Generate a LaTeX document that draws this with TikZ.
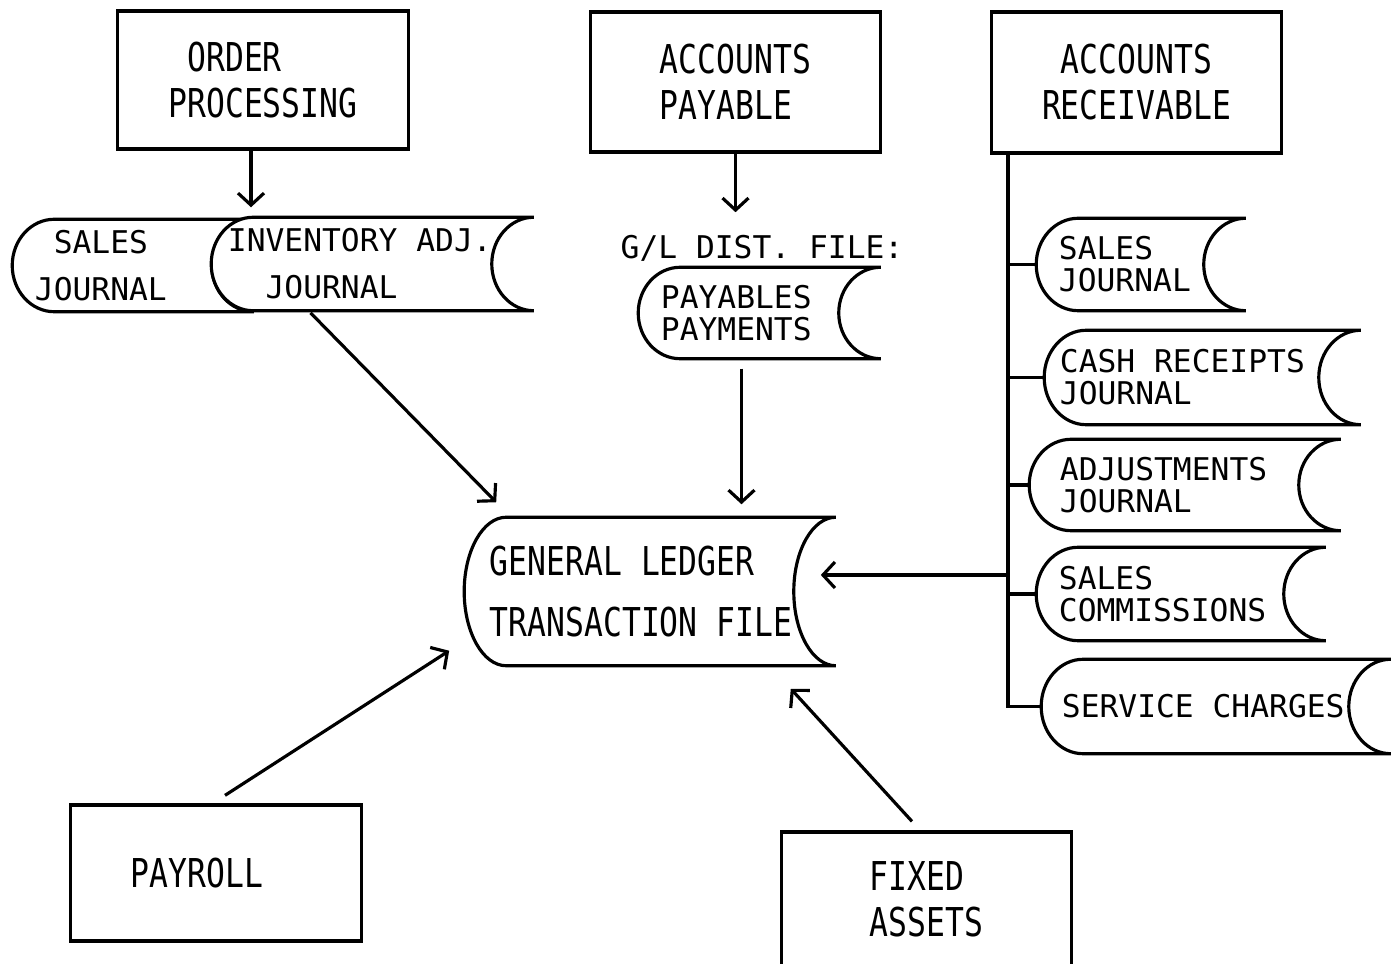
\documentclass[tikz,border=0pt]{standalone}
\usepackage{fontspec}
\usepackage{tikz}
\usetikzlibrary{calc,arrows.meta,backgrounds}
\newfontfamily\jrnlmono{DejaVu Sans Mono}
\newfontfamily\procmono[FakeStretch=0.79]{DejaVu Sans Mono}
\newcommand\procfont{\procmono\fontsize{11.3}{13.1}\selectfont}
\newcommand\jrnlfont{\jrnlmono\fontsize{8.9}{9.1}\selectfont}
\newcommand\bulge{0.42cm}
\newcommand\drawfile[2][]{\draw[fileline,#1] let \p1=(#2.north), \p2=(#2.south), \n1={(\y1-\y2)/2} in
  ([xshift=\bulge]#2.north west) -- (#2.north east)
  arc[start angle=90, end angle=270, x radius=\bulge, y radius=\n1]
  -- ([xshift=\bulge]#2.south west)
  arc[start angle=270, end angle=90, x radius=\bulge, y radius=\n1] -- cycle;}

\begin{document}
\begin{tikzpicture}[x=0.01cm, y=-0.01cm,
	procbox/.style={draw, line width=0.9pt, minimum width=2.9cm, minimum height=1.38cm, font=\procfont, align=center},
	filebox/.style={inner xsep=0.22cm, inner ysep=0pt, font=\jrnlfont, align=flush left},
	fileline/.style={line width=0.9pt},
	flow/.style={line width=0.9pt, -{Straight Barb[length=0.12cm, width=0.26cm]}}]
		%%%%% START %%%%%
		\useasboundingbox (0,0) rectangle (1399,964);
		\clip (0,0) rectangle (1399,964);
		
		\node[procbox] (op) at (263,80) {ORDER\phantom{ING}\\PROCESSING};
		\node[procbox, minimum height=1.40cm, align=left] (ap) at (735.5,82) {ACCOUNTS\\PAYABLE};
		\node[procbox, minimum height=1.41cm] (ar) at (1136.5,82.5) {ACCOUNTS\\RECEIVABLE};
		\node[procbox, minimum height=1.36cm] (payroll) at (216,873) {PAYROLL\phantom{XX}};
		\node[procbox, minimum height=1.34cm, align=left] (fixed) at (926.5,899) {FIXED\\ASSETS};
		
		\node[filebox, text width=1.96cm, minimum height=0.91cm] (salesj) at (133,265.5) {\phantom{X}SALES\\[4.3pt]JOURNAL};
		\node[filebox, inner xsep=0.16cm, text width=2.89cm, minimum height=0.92cm] (inv) at (372.5,264) {INVENTORY ADJ.\\[4.3pt]\phantom{IN}JOURNAL};
		\node[filebox, inner xsep=0pt, inner ysep=0pt] (gldist) at (762,248) {G/L DIST. FILE:};
		\node[filebox, text width=1.97cm, minimum height=0.90cm] (pay) at (759.5,313) {PAYABLES\\PAYMENTS};
		\node[filebox, inner xsep=0.25cm, text width=3.20cm, minimum height=1.47cm, font=\procfont] (gl) at (650,591.5) {GENERAL LEDGER\\[4.5pt]TRANSACTION FILE};
		
		\node[filebox, text width=1.64cm, minimum height=0.91cm] (arsales) at (1141,264.5) {SALES\\JOURNAL};
		\node[filebox, inner xsep=0.15cm, text width=2.85cm, minimum height=0.93cm] (cash) at (1202.5,377.5) {CASH RECEIPTS\\JOURNAL};
		\node[filebox, inner xsep=0.30cm, text width=2.50cm, minimum height=0.90cm] (adj) at (1185,485) {ADJUSTMENTS\\JOURNAL};
		\node[filebox, text width=2.44cm, minimum height=0.92cm] (comm) at (1181,594) {SALES\\COMMISSIONS};
		\node[filebox, inner xsep=0.20cm, text width=3.08cm, minimum height=0.93cm] (serv) at (1216,706.5) {SERVICE CHARGES};
		
		\begin{scope}[on background layer]
			\drawfile{salesj}
			\drawfile[fill=white]{inv}
			\drawfile{pay}
			\drawfile{gl}
			\foreach \f in {arsales,cash,adj,comm,serv} {\drawfile{\f}}
		\end{scope}
		
		\coordinate (bus) at (1008,0);
		\coordinate (busout) at (1006,575);
		\draw[fileline] (bus |- ar.south) -- (bus |- serv.west) -- (serv.west);
		\foreach \f in {arsales,cash,adj,comm} {\draw[fileline] (bus |- \f.west) -- (\f.west);}
		
		\draw[flow, shorten >=0.1cm] ([xshift=-0.12cm]op.south) -- ([xshift=-0.12cm]op.south |- inv.north);
		\draw[flow, shorten >=0.22cm] (ap.south) -- (ap.south |- gldist.north);
		\draw[flow, shorten <=0.1cm, shorten >=0.13cm] ([xshift=-0.18cm]pay.south) -- ([xshift=-0.18cm]pay.south |- gl.north);
		\draw[flow, shorten <=0.03cm] ([xshift=-0.64cm]inv.south) -- ([shift={(0.32cm,0.15cm)}]gl.north west);
		\draw[flow] ([shift={(0.09cm,0.08cm)}]payroll.north) -- ([shift={(-0.15cm,0.15cm)}]gl.south west);
		\draw[flow] ([shift={(-0.145cm,0.09cm)}]fixed.north) -- ([shift={(-0.45cm,-0.23cm)}]gl.south east);
		\draw[flow] (busout) -- ([xshift=-0.15cm]busout -| gl.east);
		%%%%% END %%%%%
\end{tikzpicture}
\end{document}
